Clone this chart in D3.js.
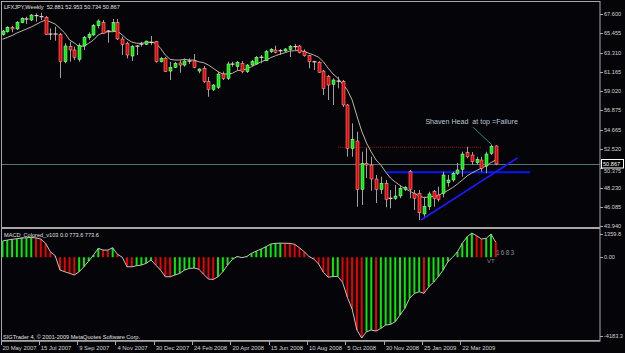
<!DOCTYPE html>
<html>
<head>
<meta charset="utf-8">
<script src="https://cdnjs.cloudflare.com/ajax/libs/d3/7.8.5/d3.min.js"></script>
<style>
  html, body { margin: 0; padding: 0; background: #050408; }
  svg { display: block; }
  text { font-family: "Liberation Sans", Arial, sans-serif; white-space: pre; }
</style>
</head>
<body>
<div id="chart"></div>
<script>
// weekly LFXJPY bars, 20 May 2007 .. May 2009
var opens = [65.35,65.64,66.14,65.95,66.65,67.10,66.95,67.48,67.36,67.25,
  65.39,65.42,65.35,62.29,63.97,63.60,62.56,64.05,64.97,65.28,
  66.31,66.65,65.72,65.72,66.65,64.83,64.35,62.93,64.05,64.27,
  64.24,64.46,64.53,62.29,62.67,61.25,61.67,62.15,61.92,62.37,
  62.37,61.25,61.56,60.06,59.21,59.43,60.92,60.44,62.04,61.74,
  62.11,61.18,61.92,62.04,62.82,62.40,63.41,63.60,63.54,63.49,
  63.68,63.99,64.05,63.41,62.96,62.31,62.23,61.25,60.62,59.77,
  60.14,60.06,57.46,52.62,53.43,48.04,50.94,50.75,49.19,48.04,
  48.71,47.05,47.04,47.29,48.04,50.00,47.59,47.59,45.28,46.10,
  47.77,47.40,47.59,48.78,49.08,49.83,50.27,52.13,51.87,51.01,
  51.31,50.64,52.06,52.881];
var highs = [65.85,66.25,66.28,66.84,67.25,67.32,67.62,67.70,67.77,67.40,
  66.02,66.20,65.50,64.35,64.53,63.97,64.35,65.16,65.58,66.50,
  67.03,66.95,65.83,67.06,67.06,65.09,64.53,64.16,64.16,64.53,
  64.64,65.16,64.60,62.82,62.82,62.29,62.26,62.48,62.67,62.67,
  63.15,61.56,61.81,60.58,59.80,61.14,61.18,62.29,62.29,62.37,
  62.37,62.04,62.48,62.93,63.04,63.60,63.82,64.08,63.71,63.82,
  64.16,64.27,64.16,63.68,63.04,62.40,62.37,61.37,60.81,60.44,
  60.62,60.25,57.57,55.41,54.47,52.24,52.62,51.68,49.64,49.45,
  49.08,47.96,48.52,48.52,48.41,50.20,47.96,47.96,47.21,47.77,
  47.96,48.33,50.01,49.64,50.01,50.98,52.24,52.80,52.20,51.68,
  51.68,52.24,52.99,52.953];
var lows = [65.20,65.53,65.58,65.83,66.58,66.50,66.84,66.76,66.95,65.27,
  64.72,64.64,60.47,62.11,62.29,62.48,62.29,63.60,64.72,65.16,
  66.02,65.39,64.42,65.64,64.72,63.04,62.67,62.37,63.04,63.97,
  64.16,64.16,62.20,62.20,61.14,60.25,61.59,61.06,61.74,62.04,
  61.56,61.00,59.91,58.38,59.02,59.24,60.25,60.25,61.74,61.37,
  61.00,61.03,61.81,61.92,62.11,62.37,63.26,63.23,63.04,63.38,
  62.82,63.52,63.23,62.85,61.56,61.37,61.06,58.57,58.02,57.46,
  59.32,57.23,51.68,51.68,46.10,46.29,49.30,47.88,46.51,47.52,
  46.03,45.92,46.85,47.04,47.85,47.04,45.73,44.61,44.98,45.73,
  46.10,46.66,47.15,48.33,48.89,49.64,49.45,51.50,50.75,50.75,
  50.00,49.83,51.87,50.734];
var closes = [65.72,66.14,65.95,66.69,67.14,67.03,67.51,67.40,67.29,65.35,
  65.36,65.35,62.29,64.05,63.60,62.78,64.08,64.97,65.35,66.31,
  66.84,65.46,65.70,66.69,64.83,64.24,63.04,63.97,64.02,64.25,
  64.60,64.44,62.29,62.67,61.18,61.67,62.11,61.92,62.37,62.35,
  61.67,61.48,60.06,59.21,59.69,60.92,60.44,62.04,62.01,62.23,
  61.18,61.92,62.29,62.78,62.75,63.41,63.68,63.34,63.51,63.71,
  63.97,63.96,63.30,62.96,62.29,62.26,61.11,59.32,59.69,60.25,
  60.10,57.46,52.62,53.62,48.04,50.94,50.75,49.19,48.04,48.71,
  46.92,47.02,47.29,48.15,48.26,48.04,47.04,45.42,46.10,47.52,
  47.04,46.92,49.64,49.08,49.83,50.20,51.98,51.68,51.12,51.39,
  50.39,51.98,52.85,50.867];
var maValues = [64.80,65.00,65.22,65.50,65.72,65.95,66.17,66.45,66.73,66.95,
  66.73,66.50,66.02,65.50,64.72,64.38,63.97,64.05,64.35,64.72,
  65.28,65.53,65.64,65.64,65.72,65.28,64.80,64.49,64.35,64.35,
  64.42,64.49,64.35,63.79,63.04,62.56,62.48,62.48,62.56,62.48,
  62.48,62.29,62.18,61.92,61.56,61.18,60.92,60.92,61.00,61.29,
  61.37,61.48,61.74,62.00,62.29,62.48,62.74,62.96,63.15,63.30,
  63.49,63.52,63.60,63.41,63.23,63.04,62.79,62.29,61.56,60.92,
  60.47,59.80,59.13,58.02,56.23,54.55,53.21,52.21,51.31,50.75,
  49.97,49.30,48.86,48.47,48.13,47.85,47.57,47.29,47.12,47.18,
  47.24,47.35,47.63,47.91,48.24,48.63,49.08,49.53,49.86,50.14,
  50.42,50.64,51.03,51.31];
var macdValues = [840,890,930,960,990,1010,1030,1000,943,720,
  285,78,-663,-751,-834,-922,-751,-492,-197,114,
  461,373,370,492,150,0,-492,-495,-440,-404,
  -316,-145,-404,-663,-1010,-1012,-922,-834,-663,-580,
  -560,-620,-886,-1129,-1150,-1010,-751,-404,-109,40,
  -20,40,202,321,425,544,684,720,730,725,
  720,668,492,285,40,-93,-345,-777,-1036,-1000,
  -990,-1295,-2072,-2677,-3771,-4183.3,-3857,-3771,-3823,-3685,
  -3512,-3476,-3340,-2994,-2647,-2129,-1870,-1787,-1870,-1528,
  -1295,-1010,-663,-233,0,285,720,1062,1250,1114,
  943,979,1200,773.6];

var dateBars = [0, 8, 16, 24, 32, 40, 48, 56, 64, 72, 80, 88, 96];
var dateLabels = ["20 May 2007", "15 Jul 2007", "9 Sep 2007", "4 Nov 2007", "30 Dec 2007",
  "24 Feb 2008", "20 Apr 2008", "15 Jun 2008", "10 Aug 2008", "5 Oct 2008",
  "30 Nov 2008", "25 Jan 2009", "22 Mar 2009"];
var priceTicks = [67.600, 65.455, 63.310, 61.165, 59.020, 56.875, 54.665, 52.520, 50.375, 48.230, 46.085, 43.940];
var macdTicks = [1359.8, 0, -4183.3];

// drawn objects on the chart: [price, fromBar, toBar]
var redLevel = [52.73, 70.1, 100.2];
var blueLevel = [49.94, 80.1, 110.2];
// trend line: [bar, price] pairs
var trendLine = [[87.4, 44.61], [107.5, 51.54]];
var noteText = "Shaven Head  at top =Failure";
var notePos = [88.3, 55.35];
var notePointer = [[98.2, 55.0], [102.2, 53.0]];

var W = 625, H = 353;
var svg = d3.select("#chart").append("svg").attr("width", W).attr("height", H);
svg.append("rect").attr("width", W).attr("height", H).attr("fill", "#050408");

var x = d3.scaleLinear().domain([0, 103]).range([2.5, 495.8]);
var y = d3.scaleLinear().domain([43.94, 67.6]).range([226, 14.2]);
var ym = d3.scaleLinear().domain([-4183.3, 1359.8]).range([338, 231]);

var frame = "#a8a8a8";
var txt = "#d4d4d4";

// bid line
var last = closes[closes.length - 1];
svg.append("line").attr("x1", 2).attr("x2", 600)
  .attr("y1", Math.round(y(last)) + 0.5).attr("y2", Math.round(y(last)) + 0.5)
  .attr("stroke", "#56707e").attr("stroke-width", 1);

// horizontal levels
svg.append("line")
  .attr("x1", x(redLevel[1])).attr("x2", x(redLevel[2]))
  .attr("y1", y(redLevel[0])).attr("y2", y(redLevel[0]))
  .attr("stroke", "#9a1a10").attr("stroke-width", 1).attr("stroke-dasharray", "1,1");
svg.append("line")
  .attr("x1", x(blueLevel[1])).attr("x2", x(blueLevel[2]))
  .attr("y1", y(blueLevel[0])).attr("y2", y(blueLevel[0]))
  .attr("stroke", "#0a14ff").attr("stroke-width", 2);

// moving average
var maLine = d3.line().x(function(d, i) { return x(i); }).y(function(d) { return y(d); });
svg.append("path").datum(maValues).attr("d", maLine)
  .attr("fill", "none").attr("stroke", "#bdb6a2").attr("stroke-width", 1);

// candles
var candles = svg.append("g");
opens.forEach(function(o, i) {
  var c = closes[i], cx = Math.round(x(i)) + 0.5;
  candles.append("line").attr("x1", cx).attr("x2", cx)
    .attr("y1", y(highs[i])).attr("y2", y(lows[i]))
    .attr("stroke", "#a0a0a0").attr("stroke-width", 1);
  var top = y(Math.max(o, c)), bot = y(Math.min(o, c));
  if (bot - top < 1) {
    candles.append("line").attr("x1", cx - 2).attr("x2", cx + 2)
      .attr("y1", (top + bot) / 2).attr("y2", (top + bot) / 2)
      .attr("stroke", c > o ? "#e8ffe8" : (c < o ? "#ffd0d0" : "#ffffff")).attr("stroke-width", 1.2);
  } else {
    candles.append("rect").attr("x", cx - 1.5).attr("width", 3)
      .attr("y", top).attr("height", bot - top)
      .attr("fill", c > o ? "#00ee00" : "#ee0000")
      .attr("stroke", c > o ? "#c8ffc8" : "#ffb8b8").attr("stroke-width", 0.5);
  }
});

// trend line
svg.append("line")
  .attr("x1", x(trendLine[0][0])).attr("y1", y(trendLine[0][1]))
  .attr("x2", x(trendLine[1][0])).attr("y2", y(trendLine[1][1]))
  .attr("stroke", "#1a1aff").attr("stroke-width", 1.6);

// note
svg.append("text").attr("x", x(notePos[0])).attr("y", y(notePos[1]))
  .attr("fill", "#b8c8d6").attr("font-size", "7.1px").text(noteText);
svg.append("line")
  .attr("x1", x(notePointer[0][0])).attr("y1", y(notePointer[0][1]))
  .attr("x2", x(notePointer[1][0])).attr("y2", y(notePointer[1][1]))
  .attr("stroke", "#1f8a8a").attr("stroke-width", 1);

// MACD histogram
var zero = ym(0);
var hist = svg.append("g");
macdValues.forEach(function(v, i) {
  var up = i == 0 ? true : v >= macdValues[i - 1];
  hist.append("line").attr("x1", x(i)).attr("x2", x(i))
    .attr("y1", zero).attr("y2", ym(v))
    .attr("stroke", up ? "#00ee00" : "#ee0000").attr("stroke-width", 2);
});
var macdLine = d3.line().x(function(d, i) { return x(i); }).y(function(d) { return ym(d); });
svg.append("path").datum(macdValues).attr("d", macdLine)
  .attr("fill", "none").attr("stroke", "#c4c4c4").attr("stroke-width", 1);

svg.append("text").attr("x", 496).attr("y", 255).attr("fill", "#8a8a9a")
  .attr("font-size", "6.5px").attr("letter-spacing", "1.2px").text("1683");
svg.append("text").attr("x", 487).attr("y", 263).attr("fill", "#8a8a9a")
  .attr("font-size", "6px").text("VT");

// frames
svg.append("rect").attr("x", 1.5).attr("y", 1.5).attr("width", 598.5).attr("height", 339.5)
  .attr("fill", "none").attr("stroke", frame).attr("stroke-width", 1);
svg.append("rect").attr("x", 1).attr("y", 227).attr("width", 599).attr("height", 2).attr("fill", frame);
svg.append("rect").attr("x", 1).attr("y", 340).attr("width", 599).attr("height", 1.5).attr("fill", frame);

// price axis
var pAxis = svg.append("g");
priceTicks.forEach(function(p) {
  var ty = y(p);
  // the label under the current price box is pushed below it
  var labelY = Math.abs(ty - y(last)) < 8 ? ty + 4.5 : ty + 2;
  pAxis.append("line").attr("x1", 600).attr("x2", 603)
    .attr("y1", Math.round(ty) + 0.5).attr("y2", Math.round(ty) + 0.5).attr("stroke", frame);
  pAxis.append("text").attr("x", 604).attr("y", labelY).attr("fill", txt)
    .attr("font-size", "5.6px").text(p.toFixed(3));
});
// current price box
svg.append("rect").attr("x", 601.5).attr("y", y(last) - 4.5).attr("width", 22).attr("height", 8.5)
  .attr("fill", "#000").attr("stroke", "#ffffff").attr("stroke-width", 1);
svg.append("text").attr("x", 603).attr("y", y(last) + 2).attr("fill", "#ffffff")
  .attr("font-size", "5.6px").text(last.toFixed(3));

// macd axis
macdTicks.forEach(function(v) {
  var yy = v == macdTicks[0] ? 234 : (v == macdTicks[2] ? 336 : ym(v));
  svg.append("line").attr("x1", 600).attr("x2", 603)
    .attr("y1", Math.round(yy) + 0.5).attr("y2", Math.round(yy) + 0.5).attr("stroke", frame);
  svg.append("text").attr("x", 604).attr("y", yy + 2).attr("fill", txt)
    .attr("font-size", "5.6px").text(v == 0 ? "0.00" : v.toFixed(1));
});

// date axis
dateBars.forEach(function(b, k) {
  var dx = Math.round(x(b)) - 1.5;
  svg.append("line").attr("x1", dx).attr("x2", dx).attr("y1", 341).attr("y2", 345).attr("stroke", frame);
  svg.append("text").attr("x", x(b)).attr("y", 349.5).attr("fill", txt)
    .attr("font-size", "5.9px").text(dateLabels[k]);
});

// labels
svg.append("text").attr("x", 4).attr("y", 8.5).attr("fill", "#e0e0e0").attr("font-size", "5.6px")
  .text("LFXJPY,Weekly  " + [opens[103], highs[103], lows[103], closes[103]].map(function(v) { return v.toFixed(3); }).join(" "));
svg.append("text").attr("x", 4).attr("y", 237).attr("fill", "#e0e0e0").attr("font-size", "5.6px")
  .text("MACD_Colored_v103 0.0 773.6 773.6");
svg.append("text").attr("x", 3).attr("y", 339).attr("fill", "#e0e0e0").attr("font-size", "5.6px")
  .text("SIGTrader 4, \u00a9 2001-2009 MetaQuotes Software Corp.");
</script>
</body>
</html>
